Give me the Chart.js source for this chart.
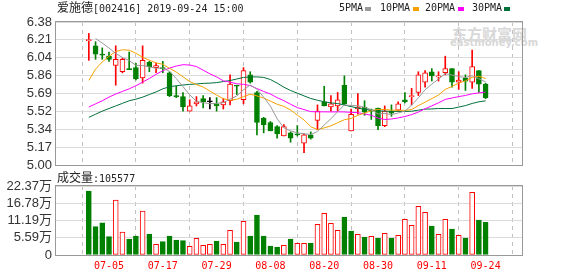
<!DOCTYPE html>
<html>
<head>
<meta charset="utf-8">
<script src="https://cdn.jsdelivr.net/npm/chart.js@4.4.1/dist/chart.umd.min.js"></script>
<style>
  html, body { margin: 0; padding: 0; background: #fff; }
  #wrap { position: relative; width: 578px; height: 276px; overflow: hidden; font-family: "Noto Sans CJK SC", sans-serif; }
  canvas { position: absolute; left: 0; }
  #priceChart { top: 0; }
  #volChart { top: 172px; }
  .txt { position: absolute; white-space: nowrap; color: #222; font-size: 12px; line-height: 14px; }
  .mono { font-family: "DejaVu Sans Mono", monospace; font-size: 10px; }
  .sw { position: absolute; width: 6px; height: 4px; }
  .wm { position: absolute; color: #d8d8d8; font-weight: bold; white-space: nowrap; }
</style>
</head>
<body>
<div id="wrap">
  <!-- watermark -->
  <div class="wm" style="left:452px;top:23px;font-size:15px;">东方财富网</div>
  <div class="wm" style="left:450px;top:37px;font-size:10px;font-family:'DejaVu Sans';">eastmoney.com</div>

  <canvas id="priceChart" width="578" height="180"></canvas>
  <canvas id="volChart" width="578" height="104"></canvas>

  <!-- title -->
  <div class="txt" style="left:57px;top:0px;">爱施德<span class="mono">[002416] 2019-09-24 15:00</span></div>

  <!-- MA legend -->
  <div class="txt mono" style="left:339px;top:1px;">5PMA</div>
  <div class="sw" style="left:365px;top:7px;background:#999999;"></div>
  <div class="txt mono" style="left:380px;top:1px;">10PMA</div>
  <div class="sw" style="left:413px;top:7px;background:#f5a200;"></div>
  <div class="txt mono" style="left:425px;top:1px;">20PMA</div>
  <div class="sw" style="left:458px;top:7px;background:#ff00ff;"></div>
  <div class="txt mono" style="left:472px;top:1px;">30PMA</div>
  <div class="sw" style="left:504px;top:7px;background:#00703a;"></div>

  <!-- volume caption -->
  <div class="txt" style="left:57px;top:170px;">成交量<span class="mono">:105577</span></div>
</div>

<script>
// trading days shown, 2019
const dates = [
  '07-02', '07-03', '07-04', '07-05', '07-08', '07-09', '07-10', '07-11', '07-12', '07-15',
  '07-16', '07-17', '07-18', '07-19', '07-22', '07-23', '07-24', '07-25', '07-26', '07-29',
  '07-30', '07-31', '08-01', '08-02', '08-05', '08-06', '08-07', '08-08', '08-09', '08-12',
  '08-13', '08-14', '08-15', '08-16', '08-19', '08-20', '08-21', '08-22', '08-23', '08-26',
  '08-27', '08-28', '08-29', '08-30', '09-02', '09-03', '09-04', '09-05', '09-06', '09-09',
  '09-10', '09-11', '09-12', '09-16', '09-17', '09-18', '09-19', '09-20', '09-23', '09-24'
];

const openP = [
  6.20, 6.15, 6.07, 6.05, 5.96, 5.90, 5.93, 5.94, 5.84, 5.99,
  5.94, 5.94, 5.89, 5.67, 5.66, 5.52, 5.59, 5.64, 5.61, 5.59,
  5.58, 5.62, 5.77, 5.63, 5.87, 5.70, 5.45, 5.41, 5.37, 5.28,
  5.31, 5.30, 5.21, 5.29, 5.43, 5.61, 5.56, 5.57, 5.77, 5.33,
  5.54, 5.56, 5.53, 5.55, 5.38, 5.52, 5.53, 5.63, 5.66, 5.70,
  5.80, 5.90, 5.85, 5.89, 5.93, 5.80, 5.84, 5.80, 5.91, 5.78
];
const highP = [
  6.27, 6.19, 6.13, 6.09, 6.15, 6.03, 6.09, 5.98, 6.15, 6.00,
  5.98, 6.00, 5.90, 5.76, 5.70, 5.63, 5.66, 5.67, 5.65, 5.65,
  5.64, 5.87, 5.77, 5.94, 5.90, 5.71, 5.46, 5.42, 5.38, 5.39,
  5.32, 5.38, 5.30, 5.32, 5.58, 5.76, 5.67, 5.70, 5.86, 5.54,
  5.69, 5.62, 5.54, 5.55, 5.57, 5.58, 5.61, 5.70, 5.74, 5.90,
  5.91, 5.93, 5.90, 6.05, 5.93, 5.90, 5.87, 6.11, 5.91, 5.79
];
const lowP = [
  6.01, 6.02, 6.02, 6.00, 5.77, 5.89, 5.92, 5.82, 5.79, 5.90,
  5.89, 5.89, 5.66, 5.65, 5.52, 5.52, 5.57, 5.55, 5.54, 5.52,
  5.54, 5.58, 5.68, 5.59, 5.79, 5.29, 5.31, 5.33, 5.26, 5.28,
  5.22, 5.28, 5.12, 5.25, 5.34, 5.57, 5.52, 5.52, 5.58, 5.33,
  5.49, 5.48, 5.44, 5.34, 5.37, 5.47, 5.52, 5.60, 5.58, 5.67,
  5.75, 5.81, 5.81, 5.87, 5.75, 5.73, 5.72, 5.74, 5.70, 5.64
];
const closeP = [
  6.21, 6.07, 6.06, 6.02, 6.02, 6.02, 5.92, 5.83, 6.01, 5.95,
  5.96, 5.93, 5.67, 5.66, 5.56, 5.57, 5.61, 5.61, 5.61, 5.57,
  5.61, 5.78, 5.76, 5.91, 5.80, 5.41, 5.39, 5.33, 5.30, 5.37,
  5.26, 5.29, 5.29, 5.26, 5.52, 5.57, 5.59, 5.63, 5.59, 5.49,
  5.56, 5.51, 5.52, 5.38, 5.52, 5.50, 5.59, 5.61, 5.67, 5.87,
  5.89, 5.86, 5.86, 5.93, 5.80, 5.82, 5.81, 5.95, 5.78, 5.65
];

// volume, in 万 shares
const volume = [
  20.75, 9.18, 10.47, 5.94, 17.83, 7.46, 5.19, 6.16, 14.26, 6.81,
  3.46, 4.32, 6.16, 4.86, 4.64, 2.81, 5.40, 3.13, 3.46, 4.54,
  3.46, 8.00, 4.21, 10.92, 6.16, 12.97, 6.16, 2.92, 2.59, 3.13,
  5.19, 3.78, 3.78, 3.89, 9.94, 13.50, 10.27, 8.00, 12.32, 7.78,
  6.70, 5.84, 6.05, 5.40, 7.02, 5.40, 6.38, 11.56, 9.62, 15.78,
  13.83, 9.40, 6.70, 11.56, 8.43, 6.38, 5.51, 20.33, 11.35, 10.56
];

// moving averages
const ma5 = [
  null, 6.220, 6.177, 6.129, 6.076, 6.038, 6.008, 5.962, 5.960, 5.946,
  5.934, 5.936, 5.904, 5.834, 5.756, 5.678, 5.614, 5.602, 5.592, 5.594,
  5.602, 5.636, 5.666, 5.726, 5.772, 5.732, 5.654, 5.568, 5.446, 5.360,
  5.330, 5.310, 5.302, 5.294, 5.324, 5.386, 5.446, 5.514, 5.580, 5.574,
  5.572, 5.556, 5.534, 5.492, 5.498, 5.486, 5.502, 5.520, 5.578, 5.648,
  5.726, 5.780, 5.830, 5.882, 5.868, 5.854, 5.844, 5.862, 5.832, 5.802
];
const ma10 = [
  5.817, 5.925, 5.995, 6.049, 6.095, 6.112, 6.108, 6.078, 6.040, 6.011,
  5.986, 5.972, 5.933, 5.897, 5.851, 5.806, 5.775, 5.753, 5.713, 5.675,
  5.640, 5.625, 5.634, 5.659, 5.683, 5.667, 5.645, 5.617, 5.586, 5.566,
  5.531, 5.482, 5.435, 5.370, 5.342, 5.358, 5.378, 5.408, 5.437, 5.449,
  5.479, 5.501, 5.524, 5.536, 5.536, 5.529, 5.529, 5.527, 5.535, 5.573,
  5.606, 5.641, 5.675, 5.730, 5.758, 5.790, 5.812, 5.846, 5.857, 5.835
];
const ma20 = [
  5.560, 5.590, 5.620, 5.655, 5.685, 5.710, 5.735, 5.765, 5.800, 5.835,
  5.875, 5.910, 5.935, 5.955, 5.968, 5.965, 5.950, 5.915, 5.880, 5.850,
  5.813, 5.799, 5.784, 5.778, 5.767, 5.737, 5.710, 5.685, 5.650, 5.621,
  5.586, 5.554, 5.535, 5.515, 5.513, 5.513, 5.512, 5.513, 5.512, 5.508,
  5.505, 5.492, 5.480, 5.453, 5.439, 5.444, 5.454, 5.468, 5.486, 5.511,
  5.543, 5.571, 5.600, 5.633, 5.647, 5.660, 5.671, 5.687, 5.696, 5.704
];
const ma30 = [
  5.460, 5.490, 5.520, 5.545, 5.570, 5.595, 5.620, 5.635, 5.655, 5.680,
  5.705, 5.735, 5.755, 5.765, 5.772, 5.778, 5.782, 5.788, 5.790, 5.795,
  5.805, 5.815, 5.830, 5.845, 5.850, 5.850, 5.845, 5.825, 5.790, 5.751,
  5.719, 5.693, 5.667, 5.642, 5.625, 5.610, 5.599, 5.593, 5.579, 5.563,
  5.550, 5.536, 5.531, 5.522, 5.520, 5.518, 5.517, 5.517, 5.519, 5.529,
  5.539, 5.541, 5.545, 5.545, 5.545, 5.559, 5.573, 5.594, 5.610, 5.619
];

const priceTicks = [5.00, 5.17, 5.34, 5.52, 5.69, 5.86, 6.04, 6.21, 6.38];
const volTicks = [0, 5.59, 11.19, 16.78, 22.37];
const dateTickIdx = [3, 11, 19, 27, 35, 43, 51, 59];

const RED = '#ff0000';
const GREEN = '#008000';
const X_MIN = -0.55, X_MAX = 60.08;

function candleDir(i) {
  if (closeP[i] > openP[i]) return 1;
  if (closeP[i] < openP[i]) return -1;
  return 0;
}
function candleColor(i) {
  var d = candleDir(i);
  return d > 0 ? RED : (d < 0 ? GREEN : '#000000');
}
function volUp(i) {
  return i > 0 && closeP[i] >= closeP[i - 1];
}

// outline round the plot area
const framePlugin = {
  id: 'frame',
  beforeDatasetsDraw(chart) {
    const a = chart.chartArea;
    const ctx = chart.ctx;
    ctx.save();
    ctx.strokeStyle = '#999999';
    ctx.lineWidth = 1;
    ctx.strokeRect(Math.round(a.left) - 0.5, Math.round(a.top) - 0.5,
      Math.round(a.right - a.left) + 1, Math.round(a.bottom - a.top) + 1);
    ctx.restore();
  }
};

function dateAxis(showLabels) {
  return {
    type: 'linear',
    min: X_MIN,
    max: X_MAX,
    afterBuildTicks: function (s) { s.ticks = dateTickIdx.map(v => ({ value: v })); },
    afterFit: function (s) { s.height = showLabels ? 21 : 0; },
    ticks: {
      display: showLabels,
      autoSkip: false,
      maxRotation: 0,
      color: RED,
      padding: 5,
      font: { family: 'DejaVu Sans Mono', size: 10 },
      callback: v => dates[v]
    },
    grid: { color: '#c0c0c0', drawTicks: false },
    border: { display: false, dash: [4, 4] }
  };
}

function valueAxis(min, max, tickList, fmt, family) {
  return {
    min: min,
    max: max,
    afterBuildTicks: function (s) { s.ticks = tickList.map(v => ({ value: v })); },
    afterFit: function (s) { s.width = 56; },
    ticks: {
      autoSkip: false,
      color: '#333333',
      padding: 4,
      font: { family: family, size: 13 },
      callback: fmt
    },
    grid: { color: '#dadada', drawTicks: false },
    border: { display: false }
  };
}

const idx = dates.map((d, i) => i);

function maLine(label, arr, color) {
  return {
    type: 'line',
    label: label,
    data: arr.map((v, i) => ({ x: i, y: v })),
    borderColor: color,
    borderWidth: 1,
    pointRadius: 0,
    tension: 0,
    order: 0
  };
}

// ====== price panel: candles + MAs ======
new Chart(document.getElementById('priceChart'), {
  data: {
    datasets: [
      maLine('5PMA', ma5, '#999999'),
      maLine('10PMA', ma10, '#f5a200'),
      maLine('20PMA', ma20, '#ff00ff'),
      maLine('30PMA', ma30, '#00703a'),
      {
        type: 'bar',
        label: 'body',
        data: idx.map(i => ({ x: i, y: [openP[i], closeP[i]] })),
        grouped: false,
        barThickness: 5,
        minBarLength: 1,
        borderWidth: 1,
        borderSkipped: false,
        backgroundColor: c => candleDir(c.dataIndex) > 0 ? '#ffffff' : candleColor(c.dataIndex),
        borderColor: c => candleColor(c.dataIndex),
        order: 1
      },
      {
        type: 'bar',
        label: 'wick',
        data: idx.map(i => ({ x: i, y: [lowP[i], highP[i]] })),
        grouped: false,
        barThickness: 1,
        borderWidth: 0,
        backgroundColor: c => candleColor(c.dataIndex),
        order: 2
      }
    ]
  },
  options: {
    responsive: false,
    animation: false,
    layout: { padding: { left: 0, right: 56, top: 22, bottom: 15 } },
    plugins: { legend: { display: false }, tooltip: { enabled: false } },
    scales: {
      x: dateAxis(false),
      y: valueAxis(5.0, 6.38, priceTicks, v => v.toFixed(2), 'Liberation Sans')
    }
  },
  plugins: [framePlugin]
});

// ====== volume panel ======
new Chart(document.getElementById('volChart'), {
  type: 'bar',
  data: {
    datasets: [{
      label: '成交量',
      data: idx.map(i => ({ x: i, y: volume[i] })),
      grouped: false,
      barThickness: 5,
      borderWidth: 1,
      borderSkipped: false,
      backgroundColor: c => volUp(c.dataIndex) ? '#ffffff' : GREEN,
      borderColor: c => volUp(c.dataIndex) ? RED : GREEN
    }]
  },
  options: {
    responsive: false,
    animation: false,
    layout: { padding: { left: 0, right: 56, top: 14, bottom: 0 } },
    plugins: { legend: { display: false }, tooltip: { enabled: false } },
    scales: {
      x: dateAxis(true),
      y: valueAxis(0, 22.37, volTicks, v => v === 0 ? '0' : v.toFixed(2) + '万', 'Liberation Sans, Noto Sans CJK SC')
    }
  },
  plugins: [framePlugin]
});
</script>
</body>
</html>
